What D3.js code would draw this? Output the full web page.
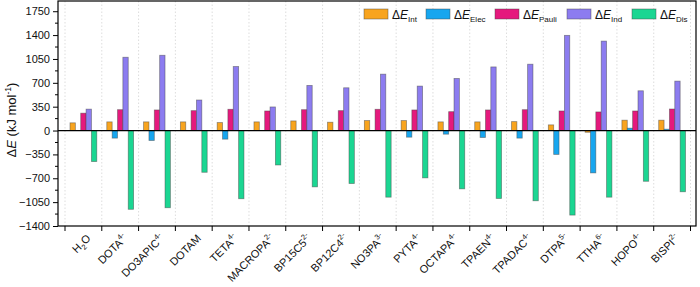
<!DOCTYPE html>
<html>
<head>
<meta charset="utf-8">
<script src="https://cdn.jsdelivr.net/npm/d3@7/dist/d3.min.js"></script>
<style>
    html, body { margin: 0; padding: 0; background: #fff; }
    svg text { font-family: "Liberation Sans", Arial, Helvetica, sans-serif; fill: #111; }
</style>
</head>
<body>
<svg id="chart" width="700" height="287"></svg>
<script>

/* Kategorien (Liganden) und Hochstellung / Tiefstellung der Labels */
var categories = ['H2O', 'DOTA', 'DO3APIC', 'DOTAM', 'TETA', 'MACROPA', 'BP15C5', 'BP12C4', 'NO3PA',
                  'PYTA', 'OCTAPA', 'TPAEN', 'TPADAC', 'DTPA', 'TTHA', 'HOPO', 'BISPI'];
var charges    = ['', '4-', '4-', '', '4-', '2-', '2-', '2-', '3-',
                  '4-', '4-', '4-', '4-', '5-', '6-', '4-', '2-'];

/* Energiebeiträge in kJ/mol */
var de_int   = [113, 127, 127, 127, 117, 127, 141, 122, 146, 146, 127, 127, 131, 83, -25, 152, 152];
var de_elec  = [0, -111, -146, 0, -126, 0, 0, 0, 0, -97, -53, -102, -111, -350, -621, 35, 20];
var de_pauli = [255, 306, 302, 292, 312, 287, 306, 292, 312, 302, 277, 302, 306, 287, 273, 287, 316];
var de_ind   = [314, 1075, 1104, 448, 939, 346, 662, 627, 827, 652, 764, 933, 973, 1396, 1312, 583, 725];
var de_dis   = [-455, -1155, -1132, -612, -1000, -505, -826, -777, -977, -694, -855, -996, -1030, -1240, -977, -744, -898];

var series_keys  = ['Int', 'Elec', 'Pauli', 'Ind', 'Dis'];
var series_vals  = [de_int, de_elec, de_pauli, de_ind, de_dis];
var series_color = ['#f8a41e', '#17a6ef', '#e5197d', '#8c7cf0', '#1bd692'];

var y_ticks = [-1400, -1050, -700, -350, 0, 350, 700, 1050, 1400, 1750];

/* Plotbereich */
var frame = { left: 58, right: 696, top: 1, bottom: 226 };

var svg = d3.select('#chart');

var x = d3.scaleBand()
    .domain(categories)
    .range([65, 690.5])
    .padding(0);

var x_inner = d3.scaleBand()
    .domain(series_keys)
    .range([5, x.bandwidth() - 5])
    .padding(0);

var y = d3.scaleLinear()
    .domain([-1400, 1900])
    .range([frame.bottom, frame.top]);

/* Vertikale gepunktete Hilfslinien an den Gruppengrenzen */
var boundaries = categories.map(function(c) { return x(c); }).concat([x(categories[categories.length - 1]) + x.bandwidth()]);

svg.append('g')
    .selectAll('line')
    .data(boundaries)
    .enter().append('line')
    .attr('x1', function(d) { return d; })
    .attr('x2', function(d) { return d; })
    .attr('y1', frame.top)
    .attr('y2', frame.bottom)
    .attr('stroke', '#d4d4d4')
    .attr('stroke-width', 0.8)
    .attr('stroke-dasharray', '1.5,2');

/* Balken */
var rows = categories.map(function(c, i) {
    return series_keys.map(function(k, j) {
        return { cat: c, key: k, value: series_vals[j][i], color: series_color[j] };
    });
});

svg.append('g')
    .selectAll('g')
    .data(rows)
    .enter().append('g')
    .attr('transform', function(d) { return 'translate(' + x(d[0].cat) + ',0)'; })
    .selectAll('rect')
    .data(function(d) { return d.filter(function(e) { return e.value !== 0; }); })
    .enter().append('rect')
    .attr('x', function(d) { return x_inner(d.key); })
    .attr('width', x_inner.bandwidth())
    .attr('y', function(d) { return y(Math.max(0, d.value)); })
    .attr('height', function(d) { return Math.abs(y(d.value) - y(0)); })
    .attr('fill', function(d) { return d.color; })
    .attr('stroke', 'rgba(70,70,70,0.55)')
    .attr('stroke-width', 0.8);

/* Nulllinie */
svg.append('line')
    .attr('x1', frame.left)
    .attr('x2', frame.right)
    .attr('y1', y(0))
    .attr('y2', y(0))
    .attr('stroke', '#000')
    .attr('stroke-width', 1.2);

/* Rahmen */
svg.append('rect')
    .attr('x', frame.left)
    .attr('y', frame.top)
    .attr('width', frame.right - frame.left)
    .attr('height', frame.bottom - frame.top)
    .attr('fill', 'none')
    .attr('stroke', '#000')
    .attr('stroke-width', 1.2);

/* Y-Achse */
var y_axis = d3.axisLeft(y)
    .tickValues(y_ticks)
    .tickFormat(d3.format('d'))
    .tickSize(5)
    .tickPadding(3);

var y_g = svg.append('g')
    .attr('transform', 'translate(' + frame.left + ',0)')
    .call(y_axis);

y_g.select('.domain').remove();
y_g.selectAll('.tick line').attr('stroke', '#000').attr('stroke-width', 1);
y_g.selectAll('.tick text')
    .style('font-size', '11px')
    .style('font-family', '"Liberation Sans", Arial, sans-serif')
    .attr('fill', '#111');

/* Kleine Zwischenstriche */
var minor = y_ticks.map(function(t) { return t + 175; }).filter(function(t) { return t < 1900; });
svg.append('g')
    .selectAll('line')
    .data(minor)
    .enter().append('line')
    .attr('x1', frame.left - 3)
    .attr('x2', frame.left)
    .attr('y1', function(d) { return y(d); })
    .attr('y2', function(d) { return y(d); })
    .attr('stroke', '#000')
    .attr('stroke-width', 1);

/* X-Achse: Striche an den Gruppengrenzen */
svg.append('g')
    .selectAll('line')
    .data(boundaries)
    .enter().append('line')
    .attr('x1', function(d) { return d; })
    .attr('x2', function(d) { return d; })
    .attr('y1', frame.bottom)
    .attr('y2', frame.bottom + 5)
    .attr('stroke', '#000')
    .attr('stroke-width', 1);

/* X-Beschriftung, um 45° gedreht */
var x_labels = svg.append('g')
    .selectAll('text')
    .data(categories)
    .enter().append('text')
    .attr('text-anchor', 'end')
    .style('font-size', '11px')
    .attr('transform', function(d) {
        return 'translate(' + (x(d) + x.bandwidth() / 2 + 8) + ',' + (frame.bottom + 13) + ') rotate(-45)';
    });

x_labels.each(function(d, i) {
    var t = d3.select(this);
    if (d === 'H2O') {
        t.append('tspan').text('H');
        t.append('tspan').attr('dy', 3).style('font-size', '7.5px').text('2');
        t.append('tspan').attr('dy', -3).text('O');
    } else {
        t.append('tspan').text(d);
        if (charges[i]) {
            t.append('tspan').attr('dy', -5).style('font-size', '7.5px').text(charges[i]);
        }
    }
});

/* Y-Titel */
var y_title = svg.append('text')
    .attr('text-anchor', 'middle')
    .style('font-size', '13px')
    .attr('transform', 'translate(16,' + 120 + ') rotate(-90)');

y_title.append('tspan').text('\u0394');
y_title.append('tspan').style('font-style', 'italic').text('E');
y_title.append('tspan').text(' (kJ mol');
y_title.append('tspan').attr('dy', -5).style('font-size', '8.5px').text('-1');
y_title.append('tspan').attr('dy', 5).text(')');

/* Legende */
var legend_x = [364, 426, 495, 567, 632];

var legend = svg.append('g')
    .selectAll('g')
    .data(series_keys)
    .enter().append('g')
    .attr('transform', function(d, i) { return 'translate(' + legend_x[i] + ',9)'; });

legend.append('rect')
    .attr('width', 24)
    .attr('height', 10)
    .attr('fill', function(d, i) { return series_color[i]; })
    .attr('stroke', 'rgba(70,70,70,0.55)')
    .attr('stroke-width', 0.8);

var legend_text = legend.append('text')
    .attr('x', 28)
    .attr('y', 9.5)
    .style('font-size', '12px');

legend_text.append('tspan').text('\u0394');
legend_text.append('tspan').style('font-style', 'italic').text('E');
legend_text.append('tspan')
    .attr('dy', 3)
    .style('font-size', '8px')
    .text(function(d) { return d; });

</script>
</body>
</html>
